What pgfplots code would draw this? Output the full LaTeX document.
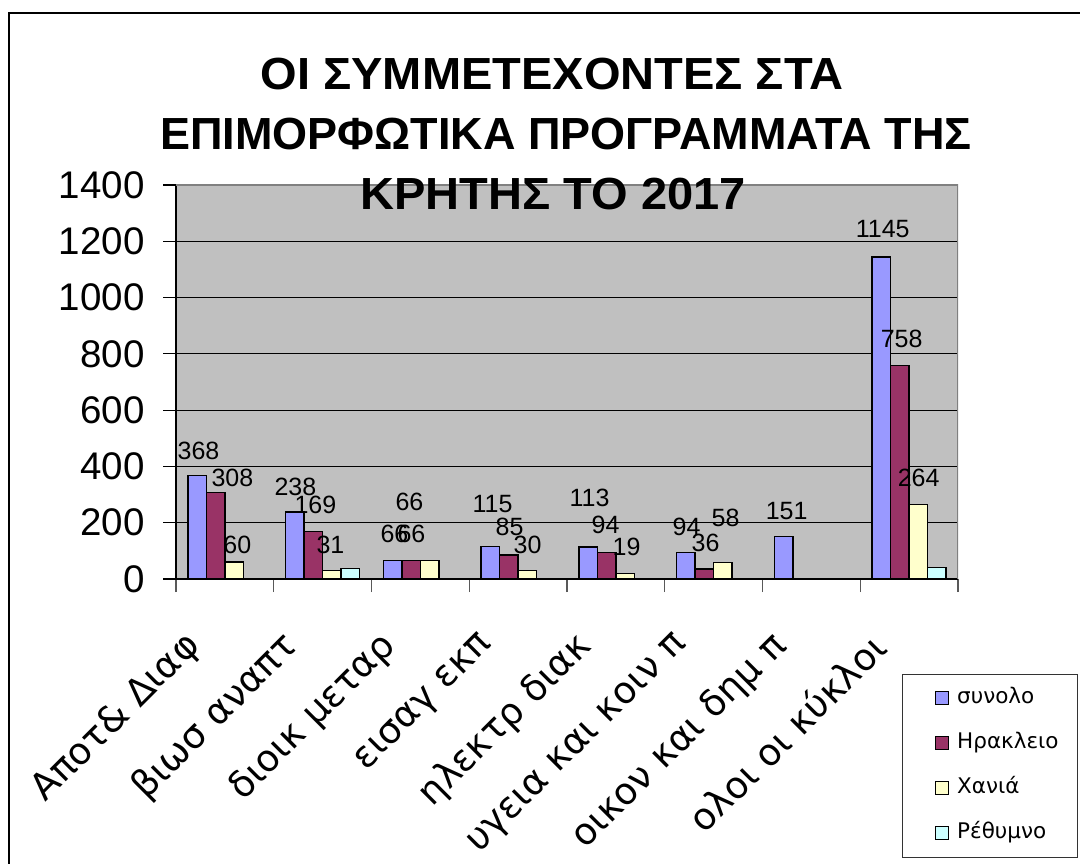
\documentclass[border=0pt]{standalone}
\usepackage{fontspec}
\setmainfont{Liberation Sans}
\newfontfamily\dejavu{DejaVu Sans}
\usepackage{pgfplots}
\pgfplotsset{compat=1.18}
\definecolor{cSyn}{HTML}{9999FF}
\definecolor{cHer}{HTML}{993366}
\definecolor{cCha}{HTML}{FFFFCC}
\definecolor{cRet}{HTML}{CCFFFF}
\definecolor{plotbg}{HTML}{C0C0C0}
\begin{document}
\begin{tikzpicture}[x=1pt,y=1pt]
\begin{axis}[
  at={(176pt,284pt)}, anchor=south west,
  width=782pt, height=394pt, scale only axis,
  ybar=0pt, bar width=18.5pt,
  xmin=-0.5, xmax=7.5, ymin=0, ymax=1400,
  axis background/.style={fill=plotbg},
  axis x line*=bottom, axis y line*=left,
  axis line style={-, black, line width=1.5pt},
  tick align=outside,
  ytick={0,200,...,1400},
  xtick={0,...,7},
  xticklabels={Αποτ\& Διαφ, βιωσ αναπτ, διοικ μεταρ, εισαγ εκπ, ηλεκτρ διακ, υγεια και κοιν π, οικον και δημ π, ολοι οι κύκλοι},
  minor xtick={-0.5,0.5,...,7.5},
  major x tick style={draw=none},
  minor x tick style={draw=gray!70!black, line width=1.2pt},
  major tick length=13pt, minor tick length=13pt,
  y tick style={black, line width=1.2pt},
  ymajorgrids, major grid style={black, line width=1.2pt},
  /pgf/number format/assume math mode=true,
  /pgf/number format/1000 sep={},
  yticklabel style={font=\fontsize{38.5}{46}\selectfont, xshift=-15pt},
  xticklabel style={font=\dejavu\fontsize{37}{44}\selectfont, xshift=-28pt, yshift=-46pt, rotate=45, anchor=east},
  legend image code/.code={\draw[#1, draw=black, line width=1pt] (0pt,-6.5pt) rectangle (13pt,6.5pt);},
  legend style={at={(0.9706,-0.2741)}, anchor=north west, draw=none, fill=none,
    inner sep=0pt, row sep=24pt, column sep=8pt,
    nodes={inner sep=0pt, text height=16pt, text depth=5pt, font=\dejavu\fontsize{21.5}{26}\selectfont}},
  legend cell align=left,
]
\addplot[fill=cSyn, draw=black, line width=1.5pt] coordinates {(0,368) (1,238) (2,66) (3,115) (4,113) (5,94) (6,151) (7,1145)};
\addplot[fill=cHer, draw=black, line width=1.5pt] coordinates {(0,308) (1,169) (2,66) (3,85) (4,94) (5,36) (7,758)};
\addplot[fill=cCha, draw=black, line width=1.5pt] coordinates {(0,60) (1,31) (2,66) (3,30) (4,19) (5,58) (7,264)};
\addplot[fill=cRet, draw=black, line width=1.5pt] coordinates {(1,38) (7,40)};
\legend{συνολο, Ηρακλειο, Χανιά, Ρέθυμνο}
\draw[gray, line width=1.5pt] (rel axis cs:0,1) -- (rel axis cs:1,1) -- (rel axis cs:1,0);
\begin{scope}[every node/.style={anchor=base, inner sep=0pt, font=\fontsize{25}{30}\selectfont}]
\node at (axis cs:-0.27,426) {368};
\node at (axis cs:0.077,327) {308};
\node at (axis cs:0.128,89) {60};
\node at (axis cs:0.722,298) {238};
\node at (axis cs:0.926,234) {169};
\node at (axis cs:1.080,92) {31};
\node at (axis cs:1.735,128) {66};
\node at (axis cs:1.909,131) {66};
\node at (axis cs:1.888,245) {66};
\node at (axis cs:2.738,238) {115};
\node at (axis cs:2.912,153) {85};
\node at (axis cs:3.096,92) {30};
\node at (axis cs:3.731,256) {113};
\node at (axis cs:3.895,163) {94};
\node at (axis cs:4.110,85) {19};
\node at (axis cs:4.724,153) {94};
\node at (axis cs:4.918,99) {36};
\node at (axis cs:5.123,185) {58};
\node at (axis cs:5.747,213) {151};
\node at (axis cs:6.730,1212) {1145};
\node at (axis cs:6.924,824) {758};
\node at (axis cs:7.098,327) {264};
\end{scope}
\end{axis}
\begin{scope}[every node/.style={anchor=base, inner sep=0pt, font=\bfseries\fontsize{45}{54}\selectfont}]
\node at (552,773) {\scalebox{1.045}[1]{ΟΙ ΣΥΜΜΕΤΕΧΟΝΤΕΣ ΣΤΑ}};
\node at (566,713) {ΕΠΙΜΟΡΦΩΤΙΚΑ ΠΡΟΓΡΑΜΜΑΤΑ ΤΗΣ};
\node at (553,653) {\scalebox{1.045}[1]{ΚΡΗΤΗΣ ΤΟ 2017}};
\end{scope}
\draw[black!80, line width=1pt] (902,188) rectangle (1077,6);
\draw[black, line width=2pt] (9,-20) -- (9,850) -- (1100,850);
\pgfresetboundingbox
\useasboundingbox (0,0) rectangle (1080,863);
\end{tikzpicture}
\end{document}
